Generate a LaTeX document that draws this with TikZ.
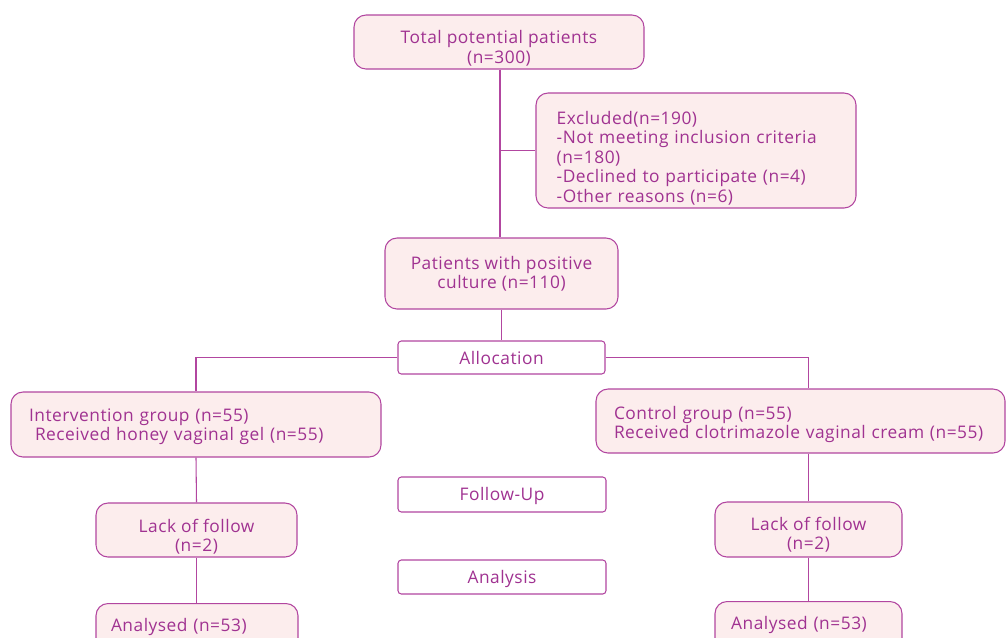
\documentclass[tikz,border=0pt]{standalone}
\usepackage{fontspec}
\setmainfont[LetterSpace=3]{Open Sans}
\definecolor{bd}{RGB}{178,70,160}
\definecolor{tx}{RGB}{160,50,145}
\definecolor{fl}{RGB}{252,237,237}
\newcommand{\dn}[1]{\rule{0pt}{\dimexpr 10pt+#1pt*3/2\relax}}
\begin{document}
\begin{tikzpicture}[x=0.75pt,y=-0.75pt,
  every node/.style={font=\fontsize{13}{14.6}\selectfont, text=tx},
  box/.style={draw=bd, fill=fl, line width=0.8pt, rounded corners=9pt, inner sep=0pt, align=center},
  lbox/.style={box, align=left, inner xsep=12pt},
  stage/.style={draw=bd, fill=white, line width=0.8pt, rounded corners=2.5pt, inner sep=0pt, align=center},
  conn/.style={draw=bd, line width=0.8pt}]
\useasboundingbox (0,0) rectangle (1006,637);
\clip (0,0) rectangle (1006,637);
\node[box, minimum width=217.5pt, minimum height=40.5pt] (total) at (499,42) {\dn{6}Total potential patients\\(n=300)};
\node[lbox, minimum width=240pt, minimum height=86.25pt, text width=209pt, inner xsep=15.5pt] (excl) at (696,150.5) {\dn{7.5}Excluded(n=190)\\-Not meeting inclusion criteria\\(n=180)\\-Declined to participate (n=4)\\-Other reasons (n=6)};
\node[box, minimum width=174.75pt, minimum height=53.25pt] (pos) at (501.5,273.5) {\dn{0}Patients with positive\\culture (n=110)};
\node[stage, minimum width=155.25pt, minimum height=24.75pt] (alloc) at (501.5,357.5) {\dn{0}Allocation};
\node[lbox, minimum width=277.5pt, minimum height=48.75pt, text width=250.5pt, inner xsep=13.5pt] (interv) at (196,424.5) {\dn{2}Intervention group (n=55)\\\hspace{4.5pt}Received honey vaginal gel (n=55)};
\node[lbox, minimum width=306.75pt, minimum height=48pt, text width=279.75pt, inner xsep=13.5pt] (ctrl) at (800.5,421) {\dn{3.5}Control group (n=55)\\Received clotrimazole vaginal cream (n=55)};
\node[stage, minimum width=156pt, minimum height=26.25pt] (follow) at (502,494.5) {\dn{1}Follow-Up};
\node[stage, minimum width=156pt, minimum height=25.5pt] (analysis) at (502,577) {\dn{2}Analysis};
\node[box, minimum width=150.75pt, minimum height=40.5pt] (lackL) at (196.5,530) {\dn{6.5}Lack of follow\\(n=2)};
\node[box, minimum width=140.25pt, minimum height=41.25pt] (lackR) at (808.5,529.5) {\dn{5}Lack of follow\\(n=2)};
\node[lbox, minimum width=151.5pt, minimum height=40.5pt, text width=129pt, inner xsep=11.25pt, anchor=north] (anL) at (197,603) {\dn{7}Analysed (n=53)\\\strut};
\node[lbox, minimum width=140.25pt, minimum height=40.5pt, text width=116pt, inner xsep=12pt, anchor=north] (anR) at (808.5,601) {\dn{7}Analysed (n=53)\\\strut};
\draw[conn] (total.south -| 500,0) -- (500,0 |- pos.north);
\draw[conn] (500,0 |- excl.west) -- (excl.west);
\draw[conn] (pos.south) -- (alloc.north);
\draw[conn] (alloc.west) -| (interv.north);
\draw[conn] (alloc.east) -| (lackR.north |- ctrl.north);
\draw[conn] (interv.south) -- (lackL.north);
\draw[conn] (lackL.south) -- (anL.north -| lackL.south);
\draw[conn] (lackR.north |- ctrl.south) -- (lackR.north);
\draw[conn] (lackR.south) -- (lackR.south |- anR.north);
\end{tikzpicture}
\end{document}
